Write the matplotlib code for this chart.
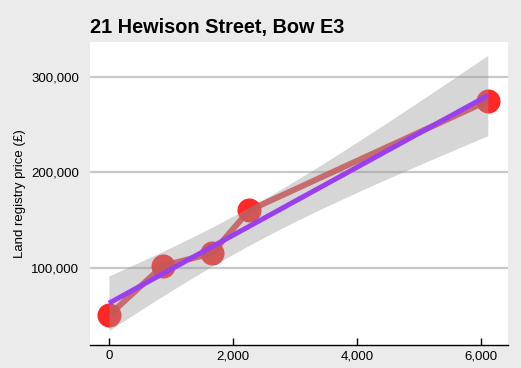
import numpy as np
import matplotlib
matplotlib.use("Agg")
import matplotlib.pyplot as plt
from matplotlib.ticker import FuncFormatter

# Data
days = [0, 870, 1660, 2260, 6110]
prices = [50000, 102000, 115000, 160000, 275000]
title = "21 Hewison Street, Bow E3"
ylabel = "Land registry price (£)"
xticks = [0, 2000, 4000, 6000]
yticks = [100000, 200000, 300000]
T95_DF3 = 3.182446  # Student t, 95%, 3 dof

plt.rcParams['font.family'] = ['Liberation Sans', 'DejaVu Sans']

W, H = 521, 368
fig = plt.figure(figsize=(W / 100, H / 100), dpi=100)
fig.patch.set_facecolor('#ebebeb')

left, right, top, bottom = 90, 508, 42, 344.5
ax = fig.add_axes([left / W, (H - bottom) / H, (right - left) / W, (bottom - top) / H])
ax.set_facecolor('white')

x = np.array(days, dtype=float)
y = np.array(prices, dtype=float)

# points then connecting line
ax.scatter(x, y, s=300, color='#ff1010', alpha=0.9, linewidths=0, zorder=3)
ax.plot(x, y, color='#e03030', lw=4.3, alpha=0.85, zorder=4, solid_capstyle='butt')

# linear fit with 95% CI
slope, intercept = np.polyfit(x, y, 1)
xs = np.linspace(x.min(), x.max(), 200)
ys = intercept + slope * xs
n = len(x)
resid = y - (intercept + slope * x)
s = np.sqrt(np.sum(resid ** 2) / (n - 2))
sxx = np.sum((x - x.mean()) ** 2)
se = s * np.sqrt(1 / n + (xs - x.mean()) ** 2 / sxx)
ax.fill_between(xs, ys - T95_DF3 * se, ys + T95_DF3 * se, color='#999999', alpha=0.4,
                linewidth=0, zorder=5)
ax.plot(xs, ys, color='#9a3ff0', lw=3.6, zorder=6, solid_capstyle='butt')

ax.set_xlim(-306, 6435)
ax.set_ylim(19372, 336650)
ax.set_xticks(xticks)
ax.set_yticks(yticks)
fmt = FuncFormatter(lambda v, p: f"{int(v):,}")
ax.xaxis.set_major_formatter(fmt)
ax.yaxis.set_major_formatter(fmt)

ax.yaxis.grid(True, color='#c8c8c8', lw=1.6, zorder=1)
ax.xaxis.grid(False)
ax.set_axisbelow(True)
for sp in ['top', 'right', 'left']:
    ax.spines[sp].set_visible(False)
ax.spines['bottom'].set_color('black')
ax.spines['bottom'].set_linewidth(1.0)
ax.tick_params(axis='x', direction='in', length=5, width=1, color='black',
               labelsize=9.5, pad=4, labelcolor='black')
ax.tick_params(axis='y', length=0, labelsize=9.5, pad=8, labelcolor='black')

fig.text(left / W, (H - 33) / H, title, fontsize=14.3, fontweight='bold',
         ha='left', va='baseline')
fig.text(20 / W, (H - 194) / H, ylabel, fontsize=9.5, rotation=90,
         ha='center', va='center')

fig.savefig('out.png', dpi=100, facecolor=fig.get_facecolor())
